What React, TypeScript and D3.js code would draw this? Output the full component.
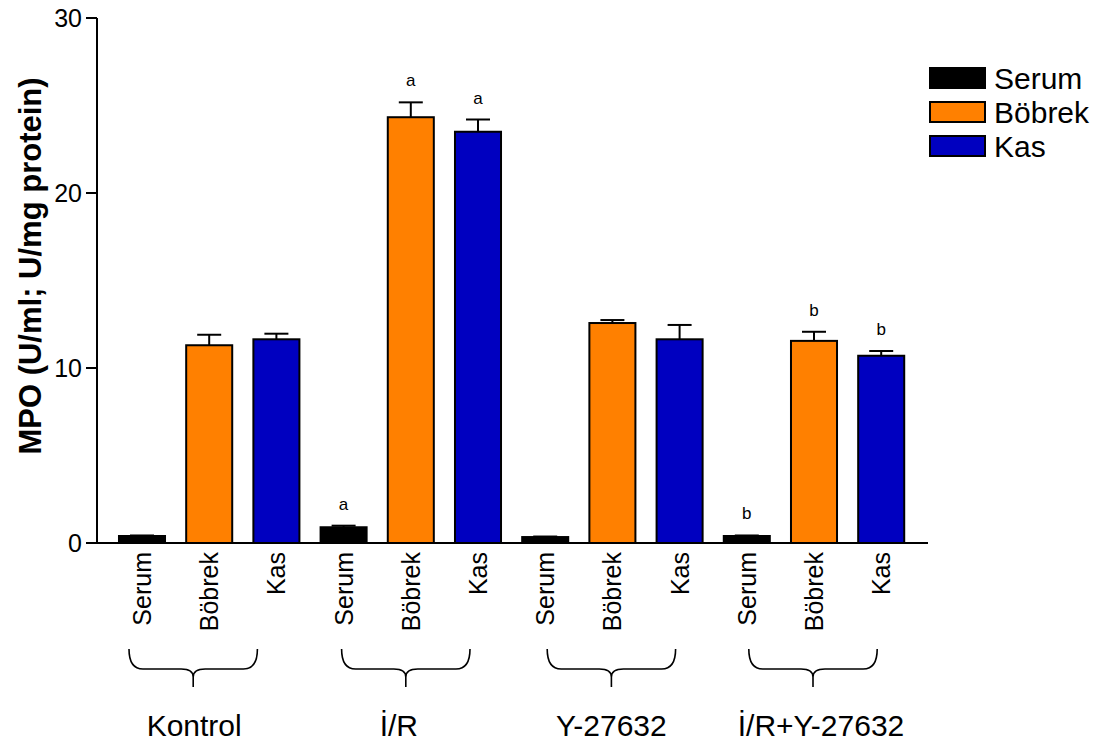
import React from "react";
import * as d3 from "d3";

// groups and tissues
const groups = ["Kontrol", "İ/R", "Y-27632", "İ/R+Y-27632"];
const tissues = ["Serum", "Böbrek", "Kas"];

// mean values per tissue, one per group
const serumMeans = [0.4, 0.9, 0.34, 0.4];
const bobrekMeans = [11.3, 24.33, 12.57, 11.55];
const kasMeans = [11.64, 23.5, 11.64, 10.7];

// SEM (upper error bar only)
const serumErr = [0.03, 0.09, 0.03, 0.03];
const bobrekErr = [0.6, 0.85, 0.17, 0.52];
const kasErr = [0.32, 0.7, 0.82, 0.27];

// significance letters
const serumSig = ["", "a", "", "b"];
const bobrekSig = ["", "a", "", "b"];
const kasSig = ["", "a", "", "b"];

const yTicks = [0, 10, 20, 30];

const colors: Record<string, string> = {
  Serum: "#000000",
  Böbrek: "#FF8000",
  Kas: "#0000C0",
};

const FONT = "Arial, 'Liberation Sans', Helvetica, sans-serif";

export default function App() {
  const width = 1104;
  const height = 747;
  const axisX = 97;
  const axisRight = 928;

  const rows = groups.flatMap((g, gi) => [
    { key: g + "|Serum", group: g, gi, tissue: "Serum", mean: serumMeans[gi], err: serumErr[gi], sig: serumSig[gi] },
    { key: g + "|Böbrek", group: g, gi, tissue: "Böbrek", mean: bobrekMeans[gi], err: bobrekErr[gi], sig: bobrekSig[gi] },
    { key: g + "|Kas", group: g, gi, tissue: "Kas", mean: kasMeans[gi], err: kasErr[gi], sig: kasSig[gi] },
  ]);

  const x = d3
    .scaleBand<string>()
    .domain(rows.map((r) => r.key))
    .range([108.4, 914.8])
    .paddingInner(0.315)
    .paddingOuter(0.1575);

  const y = d3.scaleLinear().domain([0, 30]).range([543, 18]);

  const bw = x.bandwidth();
  const step = x.step();
  const cx = (k: string) => (x(k) as number) + bw / 2;

  // brace / group label nudges (as in the original figure)
  const braceShift = [-16, -5, -1, -1];
  const labelShift = [-15, -12, -1, 7];

  const yTop = 649;
  const yMid = 669;
  const yTip = 687;

  const bracePath = (x0: number, x1: number) => {
    const xm = (x0 + x1) / 2;
    const r = 14;
    const r2 = 12;
    return (
      `M${x0},${yTop} Q${x0},${yMid} ${x0 + r},${yMid} L${xm - r2},${yMid} Q${xm},${yMid} ${xm},${yMid + 8} L${xm},${yTip} ` +
      `M${x1},${yTop} Q${x1},${yMid} ${x1 - r},${yMid} L${xm + r2},${yMid} Q${xm},${yMid} ${xm},${yMid + 8}`
    );
  };

  return (
    <svg
      width={width}
      height={height}
      style={{ position: "absolute", left: 0, top: 0, background: "#fff" }}
      fontFamily={FONT}
    >
      {/* y axis */}
      <line x1={axisX} x2={axisX} y1={y(30)} y2={y(0)} stroke="#000" strokeWidth={2} />
      {yTicks.map((t) => (
        <g key={t}>
          <line x1={axisX - 11} x2={axisX} y1={y(t)} y2={y(t)} stroke="#000" strokeWidth={2} />
          <text x={axisX - 15} y={y(t)} dy="0.36em" textAnchor="end" fontSize={25}>
            {t}
          </text>
        </g>
      ))}
      <text
        transform={`translate(41,266) rotate(-90)`}
        textAnchor="middle"
        fontSize={31}
        fontWeight="bold"
      >
        MPO (U/ml; U/mg protein)
      </text>

      {/* bars */}
      {rows.map((r) => {
        const c = cx(r.key);
        const top = y(r.mean);
        const et = y(r.mean + r.err);
        return (
          <g key={r.key}>
            <rect
              x={x(r.key)}
              y={top}
              width={bw}
              height={y(0) - top}
              fill={colors[r.tissue]}
              stroke="#000"
              strokeWidth={2}
            />
            <line x1={c} x2={c} y1={top} y2={et} stroke="#000" strokeWidth={2} />
            <line x1={c - 12} x2={c + 12} y1={et} y2={et} stroke="#000" strokeWidth={2} />
            {r.sig && (
              <text x={c} y={et - 16} textAnchor="middle" fontSize={17}>
                {r.sig}
              </text>
            )}
            <text
              transform={`translate(${c},552) rotate(-90)`}
              textAnchor="end"
              dy="0.36em"
              fontSize={25}
            >
              {r.tissue}
            </text>
          </g>
        );
      })}

      {/* x axis */}
      <line x1={axisX - 1} x2={axisRight} y1={y(0)} y2={y(0)} stroke="#000" strokeWidth={2} />

      {/* group braces and labels */}
      {groups.map((g, gi) => {
        const gc = (cx(g + "|Serum") + cx(g + "|Kas")) / 2;
        const half = step - 3;
        const bc = gc + braceShift[gi];
        return (
          <g key={g}>
            <path d={bracePath(bc - half, bc + half)} fill="none" stroke="#000" strokeWidth={1.6} />
            <text x={gc + labelShift[gi]} y={736} textAnchor="middle" fontSize={30}>
              {g}
            </text>
          </g>
        );
      })}

      {/* legend */}
      {tissues.map((t, i) => (
        <g key={t} transform={`translate(930,${68 + i * 34})`}>
          <rect width={55} height={20} fill={colors[t]} stroke="#000" strokeWidth={2} />
          <text x={64} y={10} dy="0.36em" fontSize={30}>
            {t}
          </text>
        </g>
      ))}
    </svg>
  );
}
